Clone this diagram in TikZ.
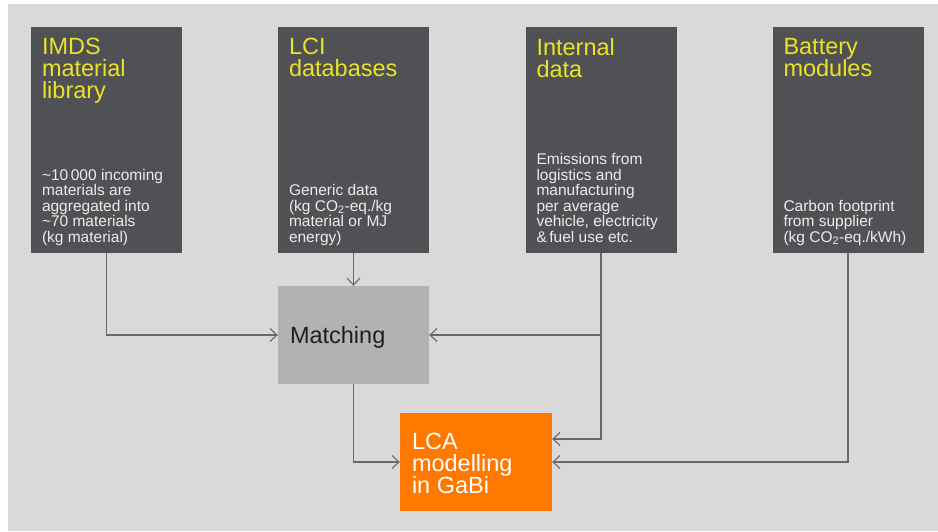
\documentclass[tikz,border=0pt]{standalone}
\usepackage{fontspec}
\setmainfont{Liberation Sans}
\usetikzlibrary{positioning,arrows.meta}

\definecolor{bggray}{RGB}{217,217,215}
\definecolor{boxdark}{RGB}{80,81,85}
\definecolor{ttlyellow}{RGB}{236,226,38}
\definecolor{bodywhite}{RGB}{236,236,234}
\definecolor{matchgray}{RGB}{178,179,177}
\definecolor{lcaorange}{RGB}{255,120,0}
\definecolor{linegray}{RGB}{105,105,105}

\begin{document}
\begin{tikzpicture}[x=1pt,y=-1pt,
  srcbox/.style={fill=boxdark,minimum width=151pt,minimum height=226pt,inner sep=0pt},
  ttl/.style={inner sep=0pt,align=left,font=\fontsize{23.5}{22}\selectfont,text=ttlyellow},
  body/.style={inner sep=0pt,align=left,font=\fontsize{15.5}{15.5}\selectfont,text=bodywhite,text depth=4pt},
  arr/.style={draw=linegray,line width=1.1pt,-{Straight Barb[length=7pt,width=13pt]}}]
\useasboundingbox (0,0) rectangle (938,531);
\fill[bggray] (8,4) rectangle (938,531);

% the four sources
\node[srcbox] (imds) at (106.5,140) {};
\node[srcbox] (lci) at (353.5,140) {};
\node[srcbox] (intdata) at (601,140) {};
\node[srcbox] (battery) at (848,140) {};

\node[ttl,below right=11pt and 11pt of imds.north west] (imdsT) {IMDS\\material\\library};
\node[ttl,below right=11pt and 11pt of lci.north west] (lciT) {LCI\\databases};
\node[ttl,below right=11pt and 11pt of intdata.north west] (intdataT) {Internal\\data};
\node[ttl,below right=11pt and 11pt of battery.north west] (batteryT) {Battery\\modules};

\node[body,above right=7pt and 11pt of imds.south west] (imdsB)
  {\textasciitilde10\,000 incoming\\materials are\\aggregated into\\\textasciitilde70 materials\\(kg material)};
\node[body,above right=7pt and 11pt of lci.south west] (lciB)
  {Generic data\\(kg CO\textsubscript{2}-eq./kg\\material or MJ\\energy)};
\node[body,above right=7pt and 11pt of intdata.south west] (intdataB)
  {Emissions from\\logistics and\\manufacturing\\per average\\vehicle, electricity\\\&\,fuel use etc.};
\node[body,above right=7pt and 11pt of battery.south west] (batteryB)
  {Carbon footprint\\from supplier\\(kg CO\textsubscript{2}-eq./kWh)};

% matching and modelling
\node[fill=matchgray,minimum width=151pt,minimum height=98pt,inner sep=0pt] (match) at (353.5,335) {};
\node[anchor=base west,inner sep=0pt,font=\fontsize{23.5}{22}\selectfont,text=black!88]
  (matchT) at ([xshift=12pt,yshift=-8pt]match.west) {Matching};

\node[fill=lcaorange,minimum width=152pt,minimum height=98pt,inner sep=0pt] (lca) at (476,462) {};
\node[ttl,text=white,below right=20pt and 12pt of lca.north west] (lcaT) {LCA\\modelling\\in GaBi};

% connectors
\draw[arr] (imds.south) |- (match.west);
\draw[arr] (lci.south) -- (match.north);
\draw[arr] (intdata.south) |- (match.east);
\draw[arr] (intdata.south) |- ([yshift=23pt]lca.east);
\draw[arr] (battery.south) |- (lca.east);
\draw[arr] (match.south) |- (lca.west);
\end{tikzpicture}
\end{document}
